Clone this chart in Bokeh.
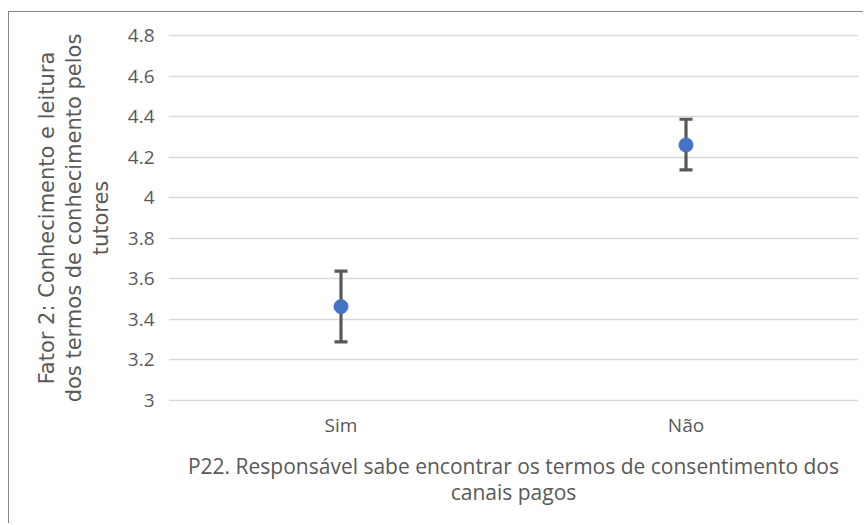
from bokeh.plotting import figure
from bokeh.models import ColumnDataSource, Whisker, TeeHead, Range1d, FactorRange, FixedTicker
from bokeh.embed import file_html
from bokeh.resources import INLINE

categories = ["Sim", "Não"]
means = [3.463, 4.26]
upper = [3.638, 4.387]
lower = [3.289, 4.137]
y_ticks = [3.0, 3.2, 3.4, 3.6, 3.8, 4.0, 4.2, 4.4, 4.6, 4.8]

src = ColumnDataSource(dict(cat=categories, mean=means, upper=upper, lower=lower))

p = figure(width=855, height=512, output_backend="svg", toolbar_location=None,
           x_range=FactorRange(*categories, range_padding=0),
           y_range=Range1d(2.995, 4.805),
           min_border_left=159, min_border_right=6, min_border_top=22, min_border_bottom=123,
           styles={"border-left": "1px solid #858585", "border-top": "1px solid #858585",
                   "margin-top": "11px", "margin-left": "8px"})

p.outline_line_color = None
p.background_fill_color = "white"
p.border_fill_color = "white"

gray = "#595959"
p.yaxis.ticker = FixedTicker(ticks=y_ticks)
p.yaxis.major_label_overrides = {3.0: "3", 4.0: "4"}
p.yaxis.axis_line_color = None
p.yaxis.major_tick_line_color = None
p.yaxis.minor_tick_line_color = None
p.yaxis.major_label_text_font = "Open Sans"
p.yaxis.major_label_text_font_size = "19px"
p.yaxis.major_label_text_color = gray
p.yaxis.major_label_standoff = 8
p.yaxis.axis_label = "Fator 2: Conhecimento e leitura\ndos termos de conhecimento pelos\ntutores"
p.yaxis.axis_label_text_font = "DejaVu Sans"
p.yaxis.axis_label_text_font_style = "normal"
p.yaxis.axis_label_text_font_size = "21px"
p.yaxis.axis_label_text_color = gray
p.yaxis.axis_label_standoff = 12
p.yaxis.axis_label_text_line_height = 1.12

p.xaxis.axis_line_color = None
p.xaxis.major_tick_line_color = None
p.xaxis.minor_tick_line_color = None
p.xaxis.major_label_text_font = "Open Sans"
p.xaxis.major_label_text_font_size = "19px"
p.xaxis.major_label_text_color = gray
p.xaxis.major_label_standoff = 4
p.xaxis.axis_label = "P22. Responsável sabe encontrar os termos de consentimento dos\ncanais pagos"
p.xaxis.axis_label_text_font = "Open Sans"
p.xaxis.axis_label_text_font_style = "normal"
p.xaxis.axis_label_text_font_size = "21px"
p.xaxis.axis_label_text_color = gray
p.xaxis.axis_label_standoff = 11
p.xaxis.axis_label_text_line_height = 0.95

p.xgrid.grid_line_color = None
p.ygrid.grid_line_color = "#d9d9d9"
p.ygrid.grid_line_width = 1.5

w = Whisker(base="cat", upper="upper", lower="lower", source=src,
            line_color="#595959", line_width=3.2,
            upper_head=TeeHead(size=13, line_color="#595959", line_width=3.2),
            lower_head=TeeHead(size=13, line_color="#595959", line_width=3.2))
p.add_layout(w)

p.scatter(x="cat", y="mean", source=src, size=14, fill_color="#4472C4", line_color="#4472C4")

open("out.html", "w").write(file_html(p, INLINE))
